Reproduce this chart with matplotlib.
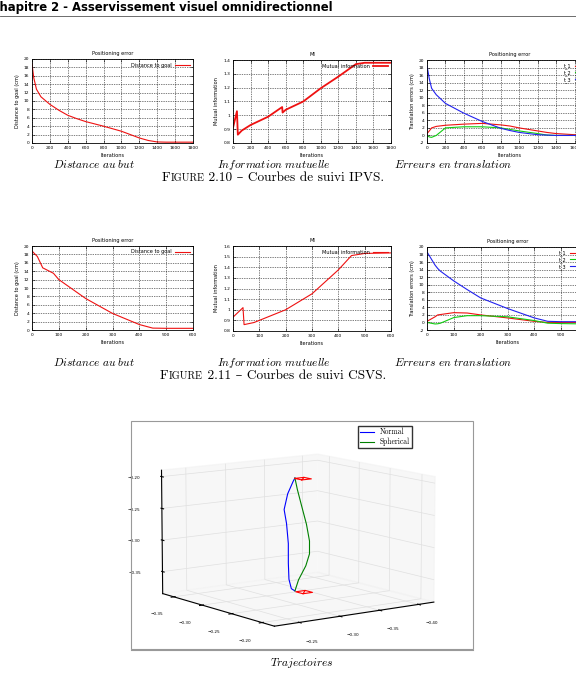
import matplotlib
matplotlib.use('Agg')
import matplotlib.pyplot as plt
from matplotlib.patches import Rectangle
from matplotlib.lines import Line2D
from matplotlib.offsetbox import TextArea, HPacker, AnnotationBbox
from mpl_toolkits.mplot3d import Axes3D  # noqa
matplotlib.rcParams['mathtext.fontset'] = 'cm'

W, H = 576, 681

# ---- IPVS (figure 2.10) ----
ipvs_it = [0, 20, 50, 100, 200, 300, 400, 500, 600, 800, 1000, 1200, 1300, 1400, 1500, 1800]
ipvs_dist = [18.8, 15.5, 12.8, 11.0, 9.2, 7.8, 6.6, 5.8, 5.1, 4.0, 2.8, 1.2, 0.6, 0.25, 0.2, 0.2]

ipvs_mi_it = [0, 45, 55, 100, 200, 400, 560, 565, 600, 800, 1000, 1200, 1400, 1500, 1800]
ipvs_mi = [0.91, 1.03, 0.86, 0.89, 0.93, 0.99, 1.06, 1.02, 1.04, 1.10, 1.196, 1.28, 1.37, 1.38, 1.38]

ipvs_t_it = [0, 25, 50, 100, 200, 400, 600, 800, 900, 1000, 1200, 1300, 1400, 1600, 1800]
ipvs_t1 = [0.5, 1.2, 2.0, 2.4, 2.7, 3.0, 3.2, 2.8, 2.5, 2.0, 1.2, 0.8, 0.5, 0.2, 0.2]
ipvs_t2 = [0.0, -0.4, -0.5, 0.0, 2.0, 2.3, 2.3, 2.0, 1.6, 1.2, 0.5, 0.1, 0.0, 0.0, 0.0]
ipvs_t3 = [18.5, 15.0, 12.5, 10.8, 8.5, 5.9, 3.7, 1.9, 1.3, 0.8, 0.2, 0.1, 0.0, 0.0, 0.0]

# ---- CSVS (figure 2.11) ----
csvs_it = [0, 20, 40, 80, 100, 200, 300, 400, 450, 500, 600]
csvs_dist = [18.8, 17.5, 14.8, 13.5, 12.0, 7.5, 3.95, 1.3, 0.45, 0.4, 0.4]

csvs_mi_it = [0, 38, 42, 80, 100, 200, 300, 400, 450, 500, 600]
csvs_mi = [0.93, 1.02, 0.86, 0.88, 0.90, 1.00, 1.15, 1.375, 1.51, 1.53, 1.535]

csvs_t_it = [0, 30, 40, 50, 100, 150, 200, 300, 400, 450, 500, 600]
csvs_t1 = [0.3, 1.5, 2.0, 2.1, 2.6, 2.5, 2.0, 1.2, 0.3, 0.0, 0.0, 0.0]
csvs_t2 = [0.0, -0.4, -0.35, -0.2, 1.3, 1.8, 1.8, 1.5, 0.5, -0.2, -0.3, -0.4]
csvs_t3 = [18.7, 15.2, 14.3, 13.6, 11.0, 8.7, 6.5, 3.7, 1.2, 0.3, 0.2, 0.2]

# ---- trajectories (3D) ----
normal_x = [-0.276, -0.282, -0.286, -0.287, -0.287, -0.290, -0.294, -0.288, -0.279, -0.276]
normal_y = [-0.318, -0.318, -0.318, -0.318, -0.318, -0.318, -0.318, -0.318, -0.318, -0.318]
normal_z = [-0.374, -0.372, -0.358, -0.333, -0.302, -0.271, -0.250, -0.224, -0.203, -0.197]
spher_x = [-0.276, -0.270, -0.258, -0.252, -0.252, -0.257, -0.265, -0.272, -0.276]
spher_y = [-0.318, -0.318, -0.318, -0.318, -0.318, -0.318, -0.318, -0.318, -0.318]
spher_z = [-0.374, -0.355, -0.330, -0.310, -0.290, -0.265, -0.238, -0.214, -0.197]
frames_x = [-0.268, -0.266]
frames_y = [-0.322, -0.322]
frames_z = [-0.197, -0.374]

fig = plt.figure(figsize=(W / 100, H / 100), dpi=100)


def px_axes(l, t, r, b, **kw):
    return fig.add_axes([l / W, 1 - b / H, (r - l) / W, (b - t) / H], **kw)


def ftext(x, y, s, **kw):
    return fig.text(x / W, 1 - y / H, s, **kw)


def gnuplot_axes(ax, xmax, xstep, ylim, ystep, title, ylabel):
    ax.set_xlim(0, xmax)
    ax.set_ylim(*ylim)
    ax.set_xticks([i * xstep for i in range(int(round(xmax / xstep)) + 1)])
    n = int(round((ylim[1] - ylim[0]) / ystep))
    ax.set_yticks([round(ylim[0] + i * ystep, 3) for i in range(n + 1)])
    ax.yaxis.set_major_formatter(matplotlib.ticker.FormatStrFormatter('%g'))
    ax.grid(True, color='k', ls=(0, (1, 1.5)), lw=0.5)
    ax.tick_params(direction='in', length=2, width=0.4, labelsize=3.2,
                   top=True, right=True, pad=2)
    for s in ax.spines.values():
        s.set_linewidth(0.6)
    ax.set_title(title, fontsize=3.6, pad=3)
    ax.set_xlabel('Iterations', fontsize=3.6, labelpad=2.5)
    ax.set_ylabel(ylabel, fontsize=3.6, labelpad=3)


def gp_legend(ax):
    ax.legend(loc='upper right', frameon=False, fontsize=3.6, markerfirst=False,
              handlelength=3, borderaxespad=0.3, labelspacing=0.2, handletextpad=0.6)


def caption_row(y_it, y_fig, num, name):
    for x, s in [(94, r'$\mathit{Distance\ au\ but}$'),
                 (274, r'$\mathit{Information\ mutuelle}$'),
                 (453, r'$\mathit{Erreurs\ en\ translation}$')]:
        ftext(x, y_it, s, ha='center', va='baseline', fontsize=8.2)
    fam = ['cmr10', 'DejaVu Serif']
    parts = [TextArea('F', textprops=dict(fontsize=9.6, family=fam)),
             TextArea('IGURE', textprops=dict(fontsize=7.4, family=fam)),
             TextArea(' ' + num + ' \u2013 Courbes de suivi ' + name + '.',
                      textprops=dict(fontsize=9.6, family=fam))]
    box = HPacker(children=parts, align='baseline', pad=0, sep=0)
    ab = AnnotationBbox(box, (273 / W, 1 - y_fig / H), xycoords='figure fraction',
                        frameon=False, box_alignment=(0.5, 0.5))
    fig.add_artist(ab)


red = '#ee1111'
green = '#11cc11'
blue = '#2222ee'

# header
ftext(333, 7, 'Chapitre 2 - Asservissement visuel omnidirectionnel', ha='right',
      va='center', fontsize=8.35, fontweight='bold', family='DejaVu Sans')
fig.add_artist(Line2D([0, 1], [1 - 15.5 / H] * 2, color='#555555', lw=0.6))

# row 1
ax = px_axes(32, 59, 193, 143)
ax.plot(ipvs_it, ipvs_dist, color=red, lw=0.8, label='Distance to goal')
gnuplot_axes(ax, 1800, 200, (0, 20), 2, 'Positioning error', 'Distance to goal (cm)')
gp_legend(ax)

ax = px_axes(233, 60, 391, 143)
ax.plot(ipvs_mi_it, ipvs_mi, color=red, lw=1.3, label='Mutual information')
gnuplot_axes(ax, 1800, 200, (0.8, 1.4), 0.1, 'MI', 'Mutual information')
gp_legend(ax)

ax = px_axes(427, 60, 593, 143)
ax.plot(ipvs_t_it, ipvs_t1, color=red, lw=0.8, label='t_1')
ax.plot(ipvs_t_it, ipvs_t2, color=green, lw=0.8, label='t_2')
ax.plot(ipvs_t_it, ipvs_t3, color=blue, lw=0.8, label='t_3')
gnuplot_axes(ax, 1800, 200, (-2, 20), 2, 'Positioning error', 'Translation errors (cm)')
gp_legend(ax)

caption_row(168.5, 177.5, '2.10', 'IPVS')

# row 2
ax = px_axes(32, 246, 193, 330)
ax.plot(csvs_it, csvs_dist, color=red, lw=0.8, label='Distance to goal')
gnuplot_axes(ax, 600, 100, (0, 20), 2, 'Positioning error', 'Distance to goal (cm)')
gp_legend(ax)

ax = px_axes(233, 246, 391, 331)
ax.plot(csvs_mi_it, csvs_mi, color=red, lw=0.8, label='Mutual information')
gnuplot_axes(ax, 600, 100, (0.8, 1.6), 0.1, 'MI', 'Mutual information')
gp_legend(ax)

ax = px_axes(427, 247, 588, 330)
ax.plot(csvs_t_it, csvs_t1, color=red, lw=0.8, label='t_1')
ax.plot(csvs_t_it, csvs_t2, color=green, lw=0.8, label='t_2')
ax.plot(csvs_t_it, csvs_t3, color=blue, lw=0.8, label='t_3')
gnuplot_axes(ax, 600, 100, (-2, 20), 2, 'Positioning error', 'Translation errors (cm)')
gp_legend(ax)

caption_row(366, 376, '2.11', 'CSVS')

# 3D trajectories box
fig.add_artist(Rectangle((131 / W, 1 - 649 / H), (473 - 131) / W, (649 - 421) / H,
                         fill=False, ec='#999999', lw=0.8))
ax3 = fig.add_axes([123 / W, 1 - 654 / H, (465 - 123) / W, (654 - 424) / H],
                   projection='3d', focal_length=2.0)
ax3.plot(normal_x, normal_y, normal_z, color='blue', lw=0.8, label='Normal')
ax3.plot(spher_x, spher_y, spher_z, color='green', lw=0.8, label='Spherical')
# camera frames
for cx, cy, cz in zip(frames_x, frames_y, frames_z):
    d = 0.006
    sx = [cx - d, cx + d, cx + d, cx - d, cx - d, cx + d]
    sy = [cy - d, cy - d, cy + d, cy + d, cy - d, cy + d]
    ax3.plot(sx, sy, [cz] * 6, color='red', lw=0.8)
ax3.set_xlim(-0.37, -0.18)
ax3.set_ylim(-0.22, -0.42)
ax3.set_zlim(-0.385, -0.19)
ax3.set_xticks([-0.35, -0.30, -0.25, -0.20])
ax3.set_yticks([-0.25, -0.30, -0.35, -0.40])
ax3.set_zticks([-0.35, -0.30, -0.25, -0.20])
ax3.tick_params(labelsize=3.0, pad=1)
for a in (ax3.xaxis, ax3.yaxis, ax3.zaxis):
    a._axinfo['grid'].update(color=(0.88, 0.88, 0.88, 1), linewidth=0.5)
    a.set_pane_color((0.95, 0.95, 0.95, 0.6))
ax3.view_init(elev=10, azim=-36)
ax3.set_box_aspect((4.4, 4.4, 2.85), zoom=1.28)
ax3.zaxis.set_ticks_position('upper')
ax3.legend(loc='upper right', prop={'family': ['cmr10', 'DejaVu Serif'], 'size': 5.5},
           fancybox=False, edgecolor='k', bbox_to_anchor=(1.03, 1.01),
           handlelength=1.8, borderpad=0.3, labelspacing=0.2)

ftext(302, 666, r'$\mathit{Trajectoires}$', ha='center', va='baseline', fontsize=8.2)
fig.add_artist(Line2D([131 / W, 473 / W], [1 - 650 / H] * 2, color='#999999', lw=0.8))

fig.savefig('out.png', dpi=100)
